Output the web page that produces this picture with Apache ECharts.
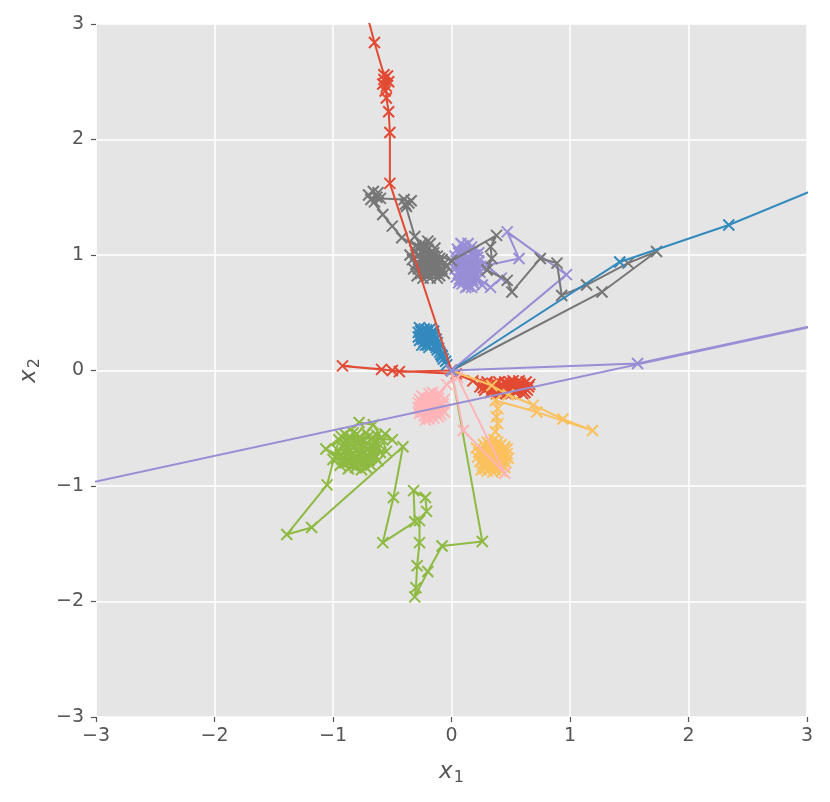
<!DOCTYPE html>
<html>
<head>
<meta charset="utf-8">
<script src="https://cdn.jsdelivr.net/npm/echarts@6/dist/echarts.min.js"></script>
<style>
  html, body { margin: 0; padding: 0; background: #fff; }
  #main { width: 830px; height: 802px; }
</style>
</head>
<body>
<div id="main"></div>
<script>
// ggplot colour cycle, 10 chains -> first three colours repeat
var colors = ['#E24A33', '#348ABD', '#988ED5', '#777777', '#FBC15E',
              '#8EBA42', '#FFB5B8', '#E24A33', '#348ABD', '#988ED5'];

var ticks = [-3, -2, -1, 0, 1, 2, 3];

var chainRed1 = [
  [0, 0], [-0.44, -0.01], [-0.59, 0.01], [-0.92, 0.04], [-0.5, 0.0], [0.04, -0.03], [0.18, -0.09],
  [0.24, -0.14], [0.3, -0.1], [0.28, -0.17], [0.35, -0.12], [0.33, -0.19], [0.4, -0.1], [0.42, -0.16],
  [0.38, -0.2], [0.46, -0.11], [0.48, -0.18], [0.44, -0.14], [0.52, -0.09], [0.54, -0.15], [0.5, -0.2],
  [0.58, -0.11], [0.6, -0.17], [0.56, -0.13], [0.63, -0.1], [0.65, -0.14], [0.62, -0.19], [0.36, -0.15],
  [0.47, -0.13], [0.55, -0.18], [0.31, -0.14], [0.59, -0.14], [0.43, -0.19], [0.51, -0.12],
  [0.26, -0.11], [0.27, -0.15], [0.32, -0.13], [0.34, -0.16], [0.37, -0.11], [0.39, -0.17], [0.41, -0.13],
  [0.45, -0.17], [0.49, -0.1], [0.5, -0.15], [0.53, -0.12], [0.57, -0.16], [0.61, -0.12], [0.64, -0.17],
  [0.66, -0.12], [0.6, -0.2], [0.46, -0.2], [0.29, -0.12], [0.53, -0.18], [0.41, -0.19], [0.57, -0.09],
  [0.45, -0.1], [0.35, -0.18], [0.62, -0.15]
];

var chainBlue1 = [
  [0, 0], [-0.04, 0.05], [-0.08, 0.12], [-0.12, 0.18],
  [-0.25, 0.35], [-0.22, 0.32], [-0.18, 0.3], [-0.26, 0.3], [-0.2, 0.26], [-0.15, 0.25], [-0.22, 0.22],
  [-0.28, 0.33], [-0.17, 0.33], [-0.24, 0.27], [-0.13, 0.2], [-0.1, 0.16], [-0.19, 0.2], [-0.23, 0.36],
  [-0.16, 0.28], [-0.2, 0.34], [-0.27, 0.26], [-0.12, 0.24], [-0.08, 0.13], [-0.21, 0.29], [-0.25, 0.22],
  [-0.15, 0.31], [-0.05, 0.08], [-0.18, 0.24],
  [-0.27, 0.37], [-0.24, 0.31], [-0.19, 0.27], [-0.21, 0.35], [-0.17, 0.3], [-0.26, 0.34], [-0.23, 0.25],
  [-0.14, 0.22], [-0.11, 0.19], [-0.2, 0.31], [-0.16, 0.24], [-0.22, 0.28], [-0.25, 0.29], [-0.18, 0.36],
  [-0.13, 0.27], [-0.09, 0.14], [-0.07, 0.1], [-0.28, 0.29], [-0.2, 0.22], [-0.15, 0.34]
];

var chainPurple1 = [
  [0, 0], [0.97, 0.83], [0.47, 1.2], [0.57, 0.97], [0.3, 0.91], [0.42, 0.8], [0.33, 0.72], [0.22, 0.8],
  [0.05, 1.05], [0.1, 1.08], [0.15, 1.04], [0.2, 1.0], [0.08, 0.98], [0.13, 0.95], [0.18, 0.92],
  [0.04, 0.92], [0.1, 0.88], [0.16, 0.85], [0.22, 0.88], [0.06, 0.84], [0.12, 0.8], [0.18, 0.78],
  [0.09, 0.75], [0.14, 0.73], [0.2, 0.82], [0.03, 0.99], [0.17, 1.07], [0.11, 1.01], [0.23, 0.95],
  [0.07, 0.79], [0.15, 0.9], [0.1, 0.93], [0.19, 0.75], [0.12, 0.86], [0.26, 0.74],
  [0.06, 1.02], [0.12, 1.05], [0.19, 1.04], [0.22, 0.98], [0.04, 0.95], [0.09, 0.91], [0.16, 0.95],
  [0.21, 0.91], [0.07, 0.87], [0.13, 0.84], [0.19, 0.86], [0.24, 0.85], [0.04, 0.81], [0.1, 0.78],
  [0.16, 0.8], [0.21, 0.78], [0.12, 0.72], [0.17, 0.72], [0.08, 1.1], [0.14, 1.1], [0.25, 0.9],
  [0.03, 0.88], [0.14, 0.98], [0.18, 1.0], [0.06, 0.76], [0.23, 1.02]
];

var chainGray = [
  [0, 0], [1.27, 0.68], [1.73, 1.03], [1.49, 0.93], [1.14, 0.74], [0.93, 0.65], [0.89, 0.93],
  [0.75, 0.97], [0.51, 0.68], [0.47, 0.78], [0.3, 0.87], [0.34, 0.97], [0.33, 1.07], [0.38, 1.17],
  [0.0, 0.95],
  [-0.3, 1.08], [-0.25, 1.1], [-0.2, 1.05], [-0.15, 1.02], [-0.28, 1.0], [-0.22, 0.98], [-0.17, 0.95],
  [-0.1, 0.97], [-0.3, 0.92], [-0.24, 0.9], [-0.18, 0.87], [-0.12, 0.9], [-0.26, 0.84], [-0.2, 0.82],
  [-0.14, 0.84], [-0.08, 0.88], [-0.33, 0.96], [-0.22, 1.03], [-0.16, 0.92], [-0.28, 0.88], [-0.1, 0.82],
  [-0.19, 0.99], [-0.06, 0.93], [-0.24, 0.95],
  [-0.31, 1.04], [-0.27, 1.06], [-0.23, 1.08], [-0.18, 1.1], [-0.14, 1.06], [-0.12, 0.99], [-0.26, 0.97],
  [-0.2, 0.94], [-0.14, 0.93], [-0.08, 0.96], [-0.32, 0.88], [-0.27, 0.92], [-0.22, 0.86], [-0.16, 0.88],
  [-0.1, 0.86], [-0.06, 0.84], [-0.29, 0.82], [-0.24, 0.8], [-0.18, 0.8], [-0.12, 0.8], [-0.04, 0.9],
  [-0.35, 1.0], [-0.2, 1.12], [-0.25, 1.02], [-0.15, 0.99],
  [-0.42, 1.15], [-0.5, 1.25], [-0.58, 1.35],
  [-0.7, 1.52], [-0.66, 1.55], [-0.63, 1.5], [-0.68, 1.48], [-0.62, 1.54], [-0.65, 1.46], [-0.6, 1.49],
  [-0.4, 1.48], [-0.36, 1.45], [-0.38, 1.42], [-0.34, 1.47], [-0.39, 1.44],
  [-0.31, 1.16], [-0.21, 1.0], [-0.15, 0.96]
];

var chainYellow = [
  [0, 0], [0.34, -0.13], [0.48, -0.21], [0.69, -0.3], [0.94, -0.42], [1.19, -0.52], [0.72, -0.36],
  [0.37, -0.26], [0.39, -0.33], [0.38, -0.4], [0.39, -0.46], [0.37, -0.53],
  [0.3, -0.62], [0.36, -0.6], [0.42, -0.64], [0.25, -0.68], [0.32, -0.7], [0.4, -0.69], [0.47, -0.72],
  [0.22, -0.75], [0.29, -0.77], [0.36, -0.74], [0.43, -0.78], [0.26, -0.82], [0.33, -0.84], [0.4, -0.82],
  [0.46, -0.8], [0.3, -0.87], [0.37, -0.86], [0.34, -0.66], [0.28, -0.72], [0.39, -0.77], [0.44, -0.68],
  [0.31, -0.8], [0.35, -0.79],
  [0.27, -0.64], [0.33, -0.62], [0.39, -0.62], [0.45, -0.66], [0.23, -0.71], [0.3, -0.74], [0.37, -0.71],
  [0.42, -0.74], [0.48, -0.76], [0.24, -0.79], [0.27, -0.76], [0.33, -0.77], [0.4, -0.79], [0.45, -0.84],
  [0.28, -0.85], [0.35, -0.88], [0.42, -0.87], [0.32, -0.65], [0.38, -0.65], [0.25, -0.86], [0.47, -0.68],
  [0.21, -0.67], [0.36, -0.82]
];

var chainGreen = [
  [0, 0], [0.26, -1.48], [-0.08, -1.52], [-0.2, -1.74], [-0.31, -1.96], [-0.3, -1.88], [-0.29, -1.69],
  [-0.27, -1.49], [-0.27, -1.3], [-0.21, -1.22], [-0.22, -1.1], [-0.32, -1.04], [-0.31, -1.31],
  [-0.58, -1.49], [-0.49, -1.1], [-0.41, -0.66], [-1.18, -1.36], [-1.39, -1.42], [-1.05, -0.99],
  [-0.95, -0.6], [-0.9, -0.55], [-0.85, -0.58], [-0.8, -0.55], [-0.75, -0.6], [-0.7, -0.57], [-0.65, -0.62],
  [-0.92, -0.66], [-0.86, -0.64], [-0.8, -0.68], [-0.74, -0.66], [-0.68, -0.7], [-0.62, -0.67],
  [-0.94, -0.73], [-0.88, -0.72], [-0.82, -0.76], [-0.76, -0.74], [-0.7, -0.78], [-0.64, -0.75],
  [-0.9, -0.8], [-0.84, -0.82], [-0.78, -0.8], [-0.72, -0.84], [-1.06, -0.68], [-0.78, -0.45],
  [-0.66, -0.47], [-0.58, -0.6], [-0.55, -0.7], [-1.0, -0.77], [-0.85, -0.69], [-0.79, -0.63],
  [-0.73, -0.71], [-0.56, -0.55], [-0.5, -0.6],
  [-0.93, -0.57], [-0.88, -0.6], [-0.83, -0.54], [-0.78, -0.58], [-0.72, -0.54], [-0.67, -0.58],
  [-0.9, -0.63], [-0.84, -0.61], [-0.77, -0.62], [-0.71, -0.63], [-0.66, -0.66], [-0.96, -0.69],
  [-0.89, -0.69], [-0.83, -0.72], [-0.77, -0.7], [-0.71, -0.74], [-0.66, -0.72], [-0.62, -0.78],
  [-0.97, -0.76], [-0.92, -0.77], [-0.86, -0.78], [-0.8, -0.78], [-0.74, -0.8], [-0.68, -0.82],
  [-0.87, -0.85], [-0.81, -0.84], [-0.76, -0.86], [-0.94, -0.82], [-0.6, -0.71], [-0.63, -0.56]
];

var chainPink = [
  [0, 0], [0.1, -0.52], [0.45, -0.89], [0.05, -0.06], [-0.04, -0.12], [-0.1, -0.2],
  [-0.25, -0.22], [-0.19, -0.2], [-0.13, -0.22], [-0.28, -0.28], [-0.22, -0.27], [-0.16, -0.26],
  [-0.1, -0.28], [-0.26, -0.34], [-0.2, -0.33], [-0.14, -0.32], [-0.08, -0.34], [-0.23, -0.39],
  [-0.17, -0.38], [-0.11, -0.4], [-0.2, -0.24], [-0.15, -0.36], [-0.24, -0.31], [-0.18, -0.29],
  [-0.12, -0.3], [-0.06, -0.25], [-0.27, -0.37], [-0.19, -0.42],
  [-0.27, -0.25], [-0.23, -0.24], [-0.17, -0.23], [-0.11, -0.24], [-0.07, -0.29], [-0.25, -0.28],
  [-0.19, -0.27], [-0.14, -0.28], [-0.09, -0.31], [-0.28, -0.32], [-0.22, -0.31], [-0.16, -0.31],
  [-0.11, -0.34], [-0.06, -0.36], [-0.24, -0.36], [-0.18, -0.35], [-0.13, -0.37], [-0.21, -0.4],
  [-0.15, -0.41], [-0.09, -0.38], [-0.16, -0.19], [-0.22, -0.43]
];

var chainRed2 = [
  [0, 0], [-0.52, 1.62], [-0.52, 2.06], [-0.53, 2.24], [-0.55, 2.36],
  [-0.55, 2.46], [-0.57, 2.52], [-0.54, 2.55], [-0.58, 2.48], [-0.56, 2.42], [-0.53, 2.5], [-0.57, 2.56],
  [-0.65, 2.84], [-0.77, 3.3]
];

var chainBlue2 = [[0, 0], [1.42, 0.94], [2.34, 1.26], [4.0, 1.96]];

var chainPurple2 = [[0, 0], [1.57, 0.06], [8, 1.48], [-8, -2.07]];

var chains = [chainRed1, chainBlue1, chainPurple1, chainGray, chainYellow,
              chainGreen, chainPink, chainRed2, chainBlue2, chainPurple2];

var dom = document.getElementById('main');
var myChart = echarts.init(dom);

function fmtTick(v) {
  return v < 0 ? '\u2212' + (-v) : String(v);
}

var series = chains.map(function (d, i) {
  return {
    type: 'line',
    data: d,
    clip: true,
    symbol: 'path://M0,0L10,10M10,0L0,10',
    symbolSize: 11,
    lineStyle: { color: colors[i], width: 2 },
    itemStyle: { color: colors[i], borderColor: colors[i], borderWidth: 2 },
    emphasis: { disabled: true },
    z: 2 + i
  };
});

function axisCommon(nameRich) {
  return {
    type: 'value',
    min: ticks[0],
    max: ticks[ticks.length - 1],
    interval: 1,
    axisLine: { show: false, onZero: false },
    axisTick: { show: true, length: 5, lineStyle: { color: '#555555', width: 1.2 } },
    axisLabel: {
      color: '#555555', fontSize: 19, fontFamily: 'DejaVu Sans',
      formatter: fmtTick
    },
    splitLine: { show: true, lineStyle: { color: '#ffffff', width: 1.5 } },
    nameLocation: 'middle',
    nameTextStyle: { rich: nameRich }
  };
}

var subRich = {
  a: { fontSize: 23, fontStyle: 'italic', fontFamily: 'DejaVu Sans', color: '#555555', lineHeight: 30 },
  b: { fontSize: 16, fontFamily: 'DejaVu Sans', color: '#555555', lineHeight: 30, padding: [12, 0, 0, 1] }
};

var xAxisOpt = axisCommon(subRich);
xAxisOpt.name = '{a|x}{b|1}';
xAxisOpt.nameGap = 40;
xAxisOpt.axisLabel.margin = 10;

var yAxisOpt = axisCommon(subRich);
yAxisOpt.name = '{a|x}{b|2}';
yAxisOpt.nameGap = 52;
yAxisOpt.nameRotate = 90;
yAxisOpt.axisLabel.margin = 12;

var option = {
  backgroundColor: '#ffffff',
  animation: false,
  grid: {
    left: 96, right: 23, top: 24, bottom: 85,
    show: true, backgroundColor: '#E5E5E5', borderWidth: 0
  },
  xAxis: xAxisOpt,
  yAxis: yAxisOpt,
  series: series
};

myChart.setOption(option, true);
</script>
</body>
</html>
